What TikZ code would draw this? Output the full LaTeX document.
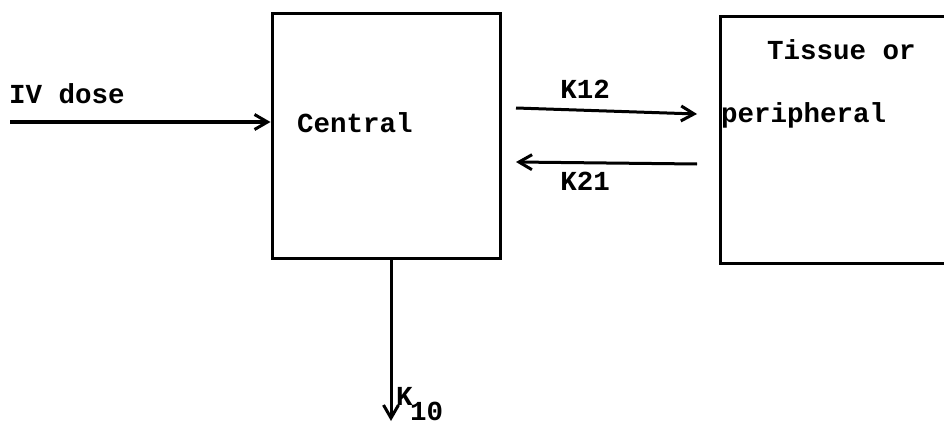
\documentclass[tikz,border=0pt]{standalone}
\usepackage{fontspec}
\setmonofont{Liberation Mono}
\usetikzlibrary{arrows.meta}
\begin{document}
\begin{tikzpicture}[x=1pt,y=-1pt,
  box/.style={draw,line width=3pt},
  lbl/.style={font=\ttfamily\bfseries\fontsize{27.5}{30}\selectfont,inner sep=0pt},
  conn/.style={line width=3pt,-{Straight Barb[length=13pt,width=15pt,line width=3pt]}}]
\useasboundingbox (0,0) rectangle (944,425);
\node[box,minimum width=228pt,minimum height=244pt,inner sep=0pt] (central) at (386,136) {};
\node[lbl,anchor=west] (ctext) at (297,123) {Central};
\draw[box] (960,17) -- (720,17) -- (720,263) -- (960,263);
\coordinate (tissueL) at (720,140);
\node[lbl,anchor=west] (t1) at (767,50) {Tissue or};
\node[lbl,anchor=west] (t2) at (721,115) {peripheral};
\coordinate (ivstart) at (10,122);
\draw[conn] (ivstart) -- (central.west |- ivstart);
\node[lbl,anchor=west] (iv) at (9,94) {IV dose};
\coordinate (a1) at (516,108);
\coordinate (a2) at (697,114);
\draw[conn] (a1) -- (a2);
\node[lbl] (k12) at (585,89) {K12};
\coordinate (b1) at (697,164);
\coordinate (b2) at (516,162);
\draw[conn] (b1) -- (b2);
\node[lbl] (k21) at (585,181) {K21};
\coordinate (kend) at (391,421);
\draw[conn] (central.south -| kend) -- (kend);
\node[lbl,anchor=base west] (k10k) at (396,405) {K};
\node[lbl,anchor=base west] (k10n) at (410,420) {10};
\end{tikzpicture}
\end{document}
